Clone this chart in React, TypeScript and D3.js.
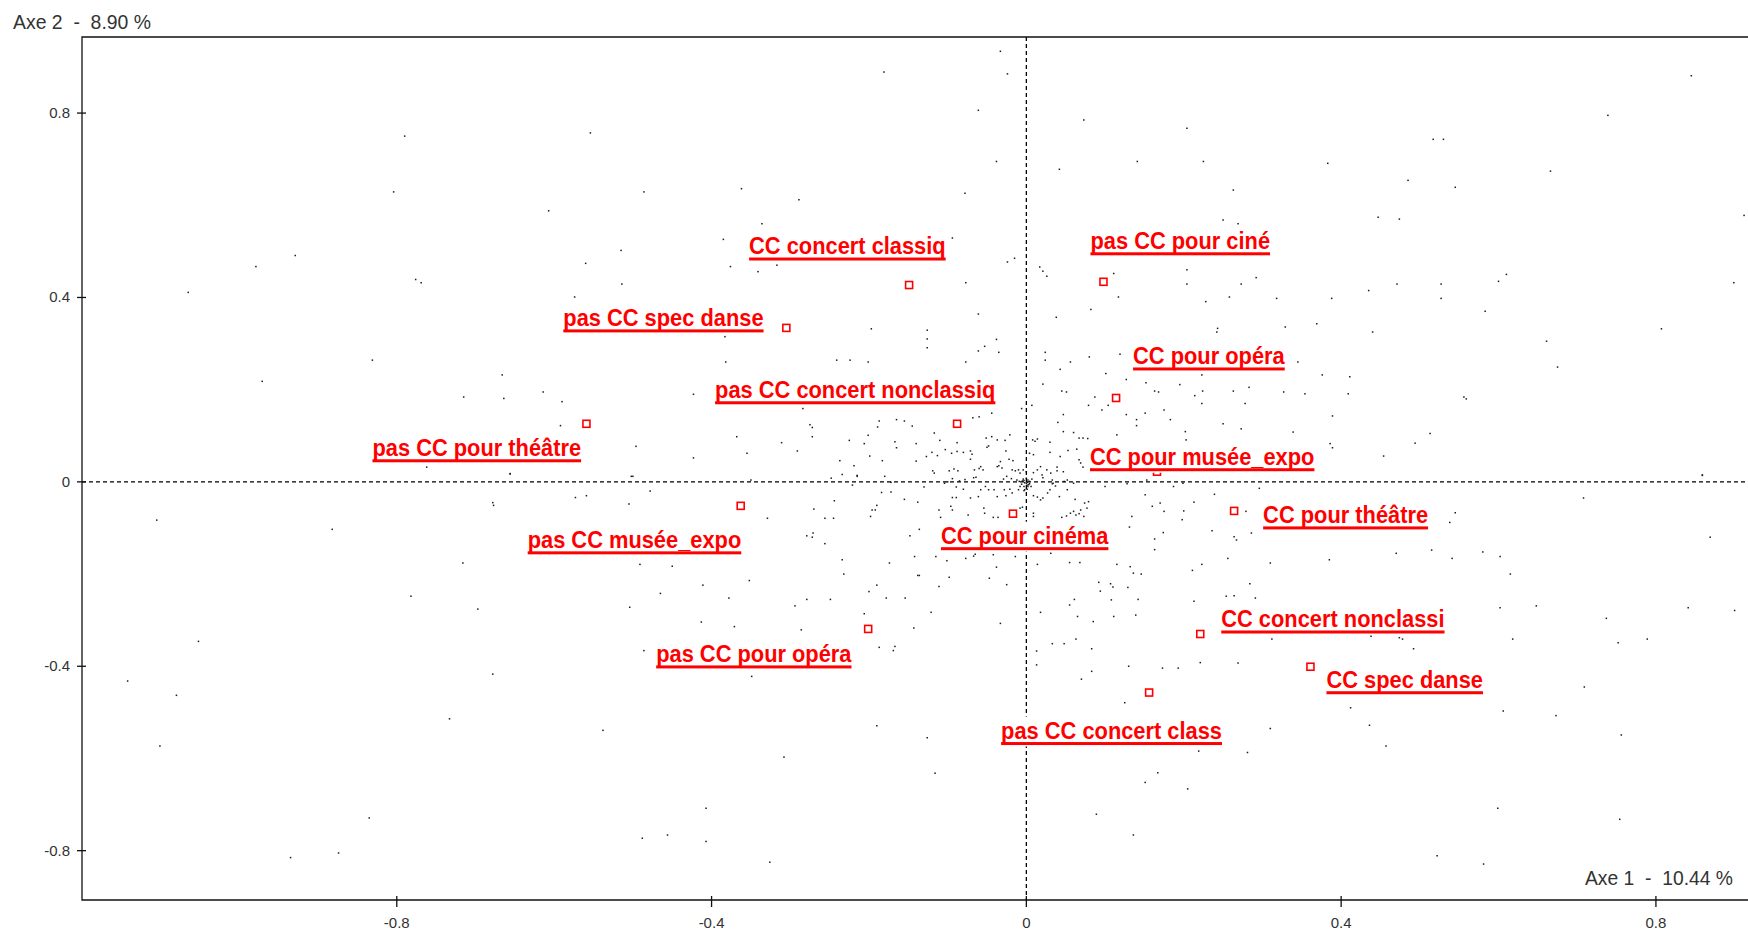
import React, { useEffect, useRef } from 'react';
import * as d3 from 'd3';

// Axis titles and ticks
const AXIS1_TITLE = 'Axe 1  -  10.44 %';
const AXIS2_TITLE = 'Axe 2  -  8.90 %';
const X_TICKS = [-0.8, -0.4, 0, 0.4, 0.8];
const Y_TICKS = [0.8, 0.4, 0, -0.4, -0.8];
const X_RANGE: [number, number] = [-1.2, 0.917];
const Y_RANGE: [number, number] = [-0.907, 0.965];

// Active modalities (red squares)
const MODALITIES = [
  'CC concert classiq',
  'pas CC spec danse',
  'pas CC concert nonclassiq',
  'pas CC pour théâtre',
  'pas CC musée_expo',
  'CC pour cinéma',
  'pas CC pour opéra',
  'pas CC pour ciné',
  'CC pour opéra',
  'CC pour musée_expo',
  'CC pour théâtre',
  'CC concert nonclassi',
  'CC spec danse',
  'pas CC concert class',
];
const MOD_AXIS1 = [-0.149, -0.305, -0.088, -0.559, -0.363, -0.017, -0.201, 0.098, 0.114, 0.166, 0.264, 0.221, 0.361, 0.156];
const MOD_AXIS2 = [0.427, 0.334, 0.126, 0.126, -0.052, -0.069, -0.319, 0.434, 0.182, 0.022, -0.063, -0.33, -0.401, -0.457];

// Individuals (axis 1, axis 2)
const INDIVIDUALS: [number, number][] = [
  [-0.181,0.889],[-0.790,0.750],[-0.554,0.757],[-0.804,0.629],[-0.486,0.629],[-0.362,0.636],[-0.289,0.612],[-0.607,0.588],[-0.336,0.560],[-0.385,0.526],[-0.929,0.491],[-0.979,0.467],[-0.515,0.502],[-0.560,0.474],[-0.376,0.467],[-0.341,0.456],[-0.317,0.470],[-0.776,0.439],[-0.769,0.432],[-1.065,0.411],[-0.514,0.429],[-0.574,0.401],[-0.197,0.332],[-0.383,0.315],[-0.831,0.264],[-0.382,0.260],[-0.241,0.264],[-0.224,0.264],[-0.201,0.260],[-0.971,0.218],[-0.666,0.232],[-0.715,0.184],[-0.664,0.181],[-0.614,0.195],[-0.590,0.174],[-0.423,0.190],[-0.284,0.159],[-0.275,0.124],[-0.272,0.118],[-0.187,0.132],[-0.165,0.135],[-0.155,0.132],[-0.145,0.121],[-0.189,0.119],[-0.592,0.122],[-0.368,0.098],[-0.272,0.098],[-0.201,0.101],[-0.225,0.090],[-0.206,0.083],[-0.167,0.087],[-0.165,0.074],[-0.140,0.083],[-0.496,0.077],[-0.311,0.085],[-0.291,0.067],[-0.355,0.062],[-0.423,0.052],[-0.199,0.056],[-0.237,0.046],[-0.219,0.035],[-0.183,0.046],[-0.140,0.045],[-0.762,0.032],[-0.656,0.018],[-0.500,0.012],[-0.234,0.016],[-0.215,0.012],
  [-0.033,0.934],[-0.024,0.885],[0.845,0.881],[-0.061,0.806],[0.073,0.785],[0.739,0.795],[0.204,0.767],[0.517,0.743],[0.530,0.743],[-0.038,0.695],[0.141,0.695],[0.225,0.695],[0.383,0.691],[0.042,0.678],[0.666,0.674],[0.485,0.654],[0.545,0.639],[0.263,0.633],[-0.078,0.626],[0.250,0.568],[0.269,0.560],[0.447,0.574],[0.474,0.570],[0.912,0.578],[-0.094,0.529],[-0.024,0.477],[-0.015,0.485],[0.017,0.466],[0.021,0.457],[0.026,0.446],[0.111,0.452],[0.204,0.460],[0.610,0.450],[0.600,0.435],[0.204,0.429],[0.273,0.429],[0.292,0.443],[0.471,0.429],[0.527,0.429],[0.899,0.432],[-0.077,0.432],[0.117,0.401],[0.228,0.391],[0.258,0.401],[0.318,0.398],[0.388,0.398],[0.435,0.415],[0.527,0.398],[0.082,0.374],[0.583,0.370],[-0.061,0.364],[0.038,0.357],[-0.126,0.329],[-0.126,0.310],[0.243,0.333],[0.242,0.325],[0.329,0.336],[0.369,0.343],[0.440,0.325],[0.807,0.332],[0.661,0.305],[-0.038,0.309],[-0.053,0.294],[-0.061,0.284],[-0.035,0.281],[-0.126,0.291],[0.024,0.281],[0.024,0.264],[0.056,0.260],[0.080,0.271],[0.119,0.277],[-0.077,0.260],[0.345,0.260],[0.675,0.249],[0.043,0.244],[0.101,0.235],[0.223,0.232],[0.376,0.232],[0.411,0.228],[0.021,0.212],[0.045,0.197],[0.051,0.195],[0.127,0.222],[0.152,0.215],[0.195,0.211],[0.283,0.205],[0.224,0.197],[0.263,0.197],[0.327,0.195],[0.354,0.191],[0.409,0.191],[0.163,0.197],[0.168,0.195],[0.214,0.187],[0.556,0.184],[0.559,0.180],[0.087,0.184],[0.079,0.166],[0.104,0.166],[0.096,0.156],[0.223,0.170],[0.278,0.170],[0.175,0.156],[0.007,0.166],[-0.006,0.159],[0.127,0.146],[0.151,0.149],[0.140,0.135],[0.183,0.135],[0.389,0.143],[-0.060,0.141],[-0.068,0.139],[-0.044,0.149],[0.040,0.129],[0.047,0.146],[0.250,0.126],[0.273,0.115],[0.140,0.122],[0.339,0.108],[0.513,0.105],[0.494,0.084],[0.454,0.056],[0.859,0.015],[0.386,0.083],[0.389,0.074],
  [-0.656,0.017],[-0.502,0.012],[-0.350,0.004],[-0.248,0.008],[-0.215,0.014],[-0.180,0.012],[-0.172,-0.001],[-0.221,-0.007],[-0.478,-0.020],[-0.573,-0.034],[-0.559,-0.030],[-0.678,-0.045],[-0.677,-0.051],[-0.505,-0.048],[-0.244,-0.041],[-0.190,-0.051],[-0.196,-0.061],[-0.192,-0.061],[-0.155,-0.038],[-0.138,-0.044],[-0.184,-0.023],[-0.172,-0.022],[-1.105,-0.083],[-0.882,-0.103],[-0.329,-0.079],[-0.270,-0.059],[-0.256,-0.079],[-0.245,-0.079],[-0.198,-0.075],[-0.279,-0.117],[-0.271,-0.111],[-0.272,-0.120],[-0.256,-0.134],[-0.148,-0.117],[-0.136,-0.103],[-0.716,-0.176],[-0.491,-0.179],[-0.450,-0.183],[-0.234,-0.169],[-0.174,-0.176],[-0.142,-0.162],[-0.232,-0.200],[-0.138,-0.203],[-0.352,-0.214],[-0.411,-0.224],[-0.190,-0.224],[-0.200,-0.238],[-0.782,-0.248],[-0.465,-0.242],[-0.378,-0.252],[-0.279,-0.255],[-0.249,-0.255],[-0.178,-0.252],[-0.154,-0.252],[-0.294,-0.269],[-0.697,-0.276],[-0.504,-0.272],[-0.206,-0.286],[-0.413,-0.304],[-0.371,-0.314],[-0.286,-0.321],[-0.143,-0.317],[-1.052,-0.346],[-0.486,-0.366],[-0.187,-0.359],[-0.167,-0.357],[-0.169,-0.366],[-1.142,-0.432],[-0.678,-0.417],[-0.349,-0.422],[-1.080,-0.463],[-0.733,-0.514],[-0.190,-0.529],[-0.538,-0.539],[-1.101,-0.573],[-0.308,-0.597],[-0.835,-0.729],[-0.407,-0.708],[-0.488,-0.773],[-0.456,-0.766],[-0.407,-0.780],[-0.935,-0.815],[-0.874,-0.805],[-0.326,-0.825],
  [0.859,0.014],[0.708,-0.035],[0.545,-0.067],[0.538,-0.088],[0.869,-0.120],[0.470,-0.155],[0.515,-0.148],[0.580,-0.152],[0.602,-0.162],[0.541,-0.166],[0.385,-0.169],[0.310,-0.176],[0.223,-0.179],[0.211,-0.192],[0.256,-0.166],[0.615,-0.200],[0.284,-0.221],[0.254,-0.248],[0.264,-0.247],[0.291,-0.252],[0.213,-0.259],[0.602,-0.273],[0.648,-0.269],[0.841,-0.273],[0.900,-0.279],[0.737,-0.296],[0.618,-0.341],[0.752,-0.349],[0.789,-0.341],[0.312,-0.341],[0.438,-0.335],[0.474,-0.338],[0.478,-0.341],[0.492,-0.362],[0.269,-0.393],[0.221,-0.392],[0.193,-0.404],[0.173,-0.404],[0.130,-0.400],[0.083,-0.411],[0.070,-0.428],[0.709,-0.445],[0.412,-0.490],[0.606,-0.497],[0.673,-0.507],[0.436,-0.528],[0.310,-0.535],[0.756,-0.549],[0.457,-0.573],[0.219,-0.584],[0.281,-0.587],[-0.126,-0.555],[-0.116,-0.632],[0.167,-0.631],[0.151,-0.652],[0.205,-0.666],[0.599,-0.708],[0.754,-0.732],[0.089,-0.721],[0.136,-0.766],[0.522,-0.811],[0.581,-0.829],[0.125,-0.479],
  [-0.115,-0.162],[-0.101,-0.171],[-0.077,-0.166],[-0.067,-0.161],[-0.038,-0.185],[-0.047,-0.209],[-0.025,-0.223],[-0.111,-0.227],[-0.098,-0.207],[-0.121,-0.283],[-0.033,-0.307],[0.018,-0.283],[0.055,-0.267],[0.065,-0.292],[0.085,-0.303],[0.111,-0.292],[0.139,-0.289],[-0.136,-0.203],[0.014,-0.179],[0.055,-0.175],[0.068,-0.175],[0.115,-0.179],[0.132,-0.184],[0.136,-0.198],[0.146,-0.200],[0.092,-0.218],[0.094,-0.237],[0.107,-0.221],[0.110,-0.228],[0.129,-0.229],[0.061,-0.255],[0.108,-0.256],[0.142,-0.255],[0.013,-0.367],[0.013,-0.397],[0.033,-0.351],[0.048,-0.351],[0.063,-0.341],[0.083,-0.362],
  [0.213,-0.044],[0.236,-0.106],[0.239,-0.027],[0.267,-0.126],[0.264,-0.119],[0.279,-0.064],[0.286,-0.111],[0.296,-0.014],
  [-0.117,0.106],[-0.110,0.090],[-0.088,0.085],[-0.051,0.095],[-0.044,0.098],[-0.037,0.091],[-0.027,0.090],[-0.021,0.102],[0.008,0.091],[0.011,0.088],[0.014,0.093],[0.030,0.086],[0.047,0.109],[0.060,0.107],[0.067,0.095],[0.072,0.095],[0.078,0.094],[0.115,0.102],[0.202,0.109],[0.203,0.091],
  [-0.103,0.070],[-0.095,0.062],[-0.088,0.066],[-0.080,0.064],[-0.071,0.067],[-0.069,0.060],[-0.113,0.057],[-0.127,0.055],[-0.120,0.064],[-0.048,0.078],[-0.050,0.075],[-0.026,0.067],[0.004,0.062],[0.009,0.059],[0.030,0.064],[0.053,0.068],[0.064,0.071],[0.067,0.048],[0.069,0.041],[0.072,0.032],[0.043,0.055],
  [-0.119,0.024],[-0.117,0.019],[-0.098,0.024],[-0.092,0.028],[-0.087,0.024],[-0.071,0.049],[-0.066,0.026],[-0.060,0.029],[-0.058,0.033],[-0.055,0.026],[-0.067,0.009],[-0.064,0.010],[-0.078,0.005],[-0.085,0.002],[-0.100,0.000],[-0.094,0.007],[-0.037,0.033],[-0.035,0.035],[-0.031,0.030],[-0.033,0.044],[-0.022,0.049],[-0.017,0.046],[-0.018,0.026],[-0.014,0.024],[-0.010,0.026],[-0.008,0.019],[-0.004,0.026],[0.000,0.022],[-0.025,0.012],[-0.029,0.006],[-0.019,0.007],[-0.012,0.004],[-0.009,0.001],[-0.003,0.003],[0.000,0.008],[0.001,-0.001],[0.004,0.001],[0.007,0.006],[0.009,0.020],[0.014,0.026],[0.018,0.033],[0.020,0.015],[0.021,0.009],[0.026,0.026],[0.031,0.019],[0.033,0.004],[0.034,-0.003],[0.039,0.024],[0.047,0.022],[0.048,0.001],[0.052,0.004],[0.039,0.032],[0.153,0.004],
  [-0.130,-0.011],[-0.104,-0.003],[-0.089,-0.011],[-0.080,-0.016],[-0.094,-0.034],[-0.089,-0.034],[-0.071,-0.035],[-0.061,-0.032],[-0.058,-0.017],[-0.052,-0.010],[-0.048,-0.017],[-0.041,-0.017],[-0.037,-0.032],[-0.028,-0.017],[-0.026,-0.030],[-0.021,-0.016],[-0.018,-0.024],[-0.010,-0.017],[-0.008,-0.010],[-0.003,-0.019],[0.001,-0.016],[0.003,-0.006],[0.006,-0.010],[0.009,-0.030],[0.014,-0.033],[0.018,-0.039],[0.021,-0.035],[0.027,-0.024],[0.030,-0.017],[0.033,-0.004],[0.037,-0.009],[0.042,-0.032],[0.052,-0.017],[0.060,-0.003],[0.062,-0.038],[0.074,-0.046],[0.079,-0.043],[0.100,-0.010],[0.128,-0.004],[0.151,-0.028],[0.160,-0.053],[0.170,-0.046],[0.187,-0.010],[0.199,-0.003],
  [-0.111,-0.061],[-0.109,-0.077],[-0.096,-0.053],[-0.094,-0.061],[-0.074,-0.072],[-0.054,-0.057],[-0.053,-0.068],[-0.042,-0.077],[-0.036,-0.077],[-0.008,-0.057],[-0.005,-0.055],[0.009,-0.075],[0.009,-0.068],[0.045,-0.077],[0.051,-0.074],[0.056,-0.068],[0.060,-0.064],[0.063,-0.072],[0.067,-0.069],[0.069,-0.061],[0.073,-0.075],[0.077,-0.057],[0.134,-0.075],[0.175,-0.064],[0.200,-0.063],[0.198,-0.082],
  [-0.065,-0.157],[-0.042,-0.158],[-0.014,-0.162],[0.031,-0.155],[0.163,-0.124],[0.131,-0.098],[0.174,-0.110],[0.163,-0.147],
  [-0.006,-0.005],[-0.003,-0.010],[0.000,-0.003],[0.002,-0.010],[-0.002,-0.017],[-0.004,0.006],[0.002,0.004],[-0.002,-0.002],[0.004,-0.004],[-0.005,0.002],[0.001,-0.007],
];

// Label placement relative to its marker, in pixels: [text start, baseline]
const LABEL_OFFSETS: [number, number][] = [
  [-160, -31], [-223, -2], [-242, -26], [-214, 32], [-213, 42], [-72, 30], [-212, 33],
  [-13, -33], [17, -34], [-67, -7], [29, 12], [21, -7], [16, 21], [-148, 46],
];

const W = 1748;
const H = 932;
const RED = '#ff0000';
const INK = '#111';
const FONT = '"Liberation Sans", Arial, sans-serif';

export default function App() {
  const ref = useRef<SVGSVGElement>(null);

  useEffect(() => {
    const svg = d3.select(ref.current as SVGSVGElement);
    svg.selectAll('*').remove();

    const left = 82, top = 37, bottom = 900, right = W;
    const x = d3.scaleLinear().domain(X_RANGE).range([left, right]);
    const y = d3.scaleLinear().domain(Y_RANGE).range([bottom, top]);

    svg.append('rect').attr('width', W).attr('height', H).attr('fill', '#fff');

    // individuals cloud
    svg.append('g')
      .selectAll('rect')
      .data(INDIVIDUALS)
      .join('rect')
      .attr('x', d => x(d[0]) - 0.75)
      .attr('y', d => y(d[1]) - 0.75)
      .attr('width', 1.5)
      .attr('height', 1.5)
      .attr('fill', '#1a1a1a');

    // dashed lines through the origin
    svg.append('line')
      .attr('x1', x(0)).attr('x2', x(0)).attr('y1', top).attr('y2', bottom)
      .attr('stroke', '#000').attr('stroke-width', 1.3).attr('stroke-dasharray', '4,3');
    svg.append('line')
      .attr('x1', left).attr('x2', right).attr('y1', y(0)).attr('y2', y(0))
      .attr('stroke', '#000').attr('stroke-width', 1.3).attr('stroke-dasharray', '4,3');

    // frame
    svg.append('path')
      .attr('d', `M${right},${top}H${left}V${bottom}H${right}`)
      .attr('stroke', INK).attr('stroke-width', 1.3).attr('fill', 'none');

    // x ticks
    const xt = svg.append('g');
    X_TICKS.forEach(v => {
      xt.append('line').attr('x1', x(v)).attr('x2', x(v)).attr('y1', bottom - 4).attr('y2', bottom + 7)
        .attr('stroke', INK).attr('stroke-width', 1.3);
      xt.append('text').attr('x', x(v)).attr('y', 928).attr('text-anchor', 'middle')
        .attr('font-family', FONT).attr('font-size', 15).attr('fill', '#333')
        .text(v === 0 ? '0' : String(v));
    });

    // y ticks
    const yt = svg.append('g');
    Y_TICKS.forEach(v => {
      yt.append('line').attr('x1', left - 5).attr('x2', left + 4).attr('y1', y(v)).attr('y2', y(v))
        .attr('stroke', INK).attr('stroke-width', 1.3);
      yt.append('text').attr('x', 70).attr('y', y(v) + 5).attr('text-anchor', 'end')
        .attr('font-family', FONT).attr('font-size', 15).attr('fill', '#333')
        .text(v === 0 ? '0' : String(v));
    });

    // axis titles
    svg.append('text').attr('x', 13).attr('y', 28.5)
      .attr('font-family', FONT).attr('font-size', 20).attr('fill', '#333')
      .attr('textLength', 138).attr('lengthAdjust', 'spacingAndGlyphs')
      .style('white-space', 'pre')
      .text(AXIS2_TITLE);
    svg.append('text').attr('x', 1585).attr('y', 885)
      .attr('font-family', FONT).attr('font-size', 20).attr('fill', '#333')
      .attr('textLength', 148).attr('lengthAdjust', 'spacingAndGlyphs')
      .style('white-space', 'pre')
      .text(AXIS1_TITLE);

    // modality markers
    svg.append('g')
      .selectAll('rect')
      .data(MODALITIES.map((_, i) => i))
      .join('rect')
      .attr('x', i => x(MOD_AXIS1[i]) - 3.5)
      .attr('y', i => y(MOD_AXIS2[i]) - 3.5)
      .attr('width', 7)
      .attr('height', 7)
      .attr('fill', '#fff')
      .attr('stroke', RED)
      .attr('stroke-width', 1.6);

    // modality labels: bold red, underlined, on a white box
    const squeeze = 0.91;
    const labels = svg.append('g');
    MODALITIES.forEach((name, i) => {
      const [dx, dy] = LABEL_OFFSETS[i];
      const g = labels.append('g')
        .attr('transform', `translate(${x(MOD_AXIS1[i]) + dx},${y(MOD_AXIS2[i]) + dy})`);
      const bg = g.append('rect').attr('fill', '#fff');
      const t = g.append('text')
        .attr('transform', `scale(${squeeze},1)`)
        .attr('font-family', FONT).attr('font-weight', 'bold').attr('font-size', 24)
        .attr('fill', RED)
        .text(name);
      const w = (t.node() as SVGTextElement).getComputedTextLength() * squeeze;
      bg.attr('x', -1).attr('y', -22).attr('width', w + 2).attr('height', 30);
      g.append('rect').attr('x', 0).attr('y', 3.5).attr('width', w).attr('height', 3).attr('fill', RED);
    });
  }, []);

  return (
    <svg
      ref={ref}
      width={W}
      height={H}
      style={{ position: 'absolute', left: 0, top: 0, display: 'block' }}
    />
  );
}
